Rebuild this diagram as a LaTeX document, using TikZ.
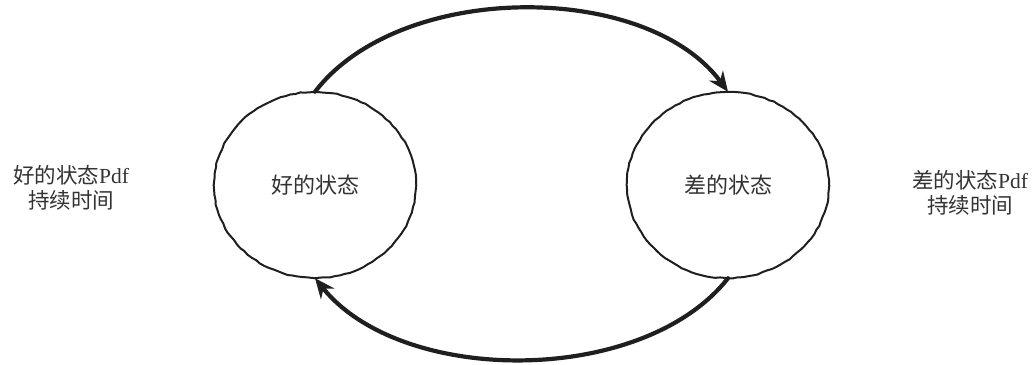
\documentclass[tikz,border=0pt]{standalone}
\usepackage{fontspec}
\setmainfont{Liberation Serif}
\newfontfamily\cjk{Noto Sans CJK SC}
\usetikzlibrary{shapes.geometric,arrows.meta,decorations.pathmorphing}
\begin{document}
\begin{tikzpicture}[x=1pt,y=-1pt,
  statebox/.style={ellipse,minimum width=202pt,minimum height=186pt,inner sep=0pt,
    text=black!80,font=\fontsize{22}{26}\selectfont\cjk},
  wobbly/.style={draw=black!88,line width=2pt,
    decoration={random steps,segment length=5pt,amplitude=0.5pt},decorate},
  flow/.style={draw=black!88,line width=4.2pt,line cap=round,
    -{Stealth[length=20pt,width=17pt]}},
  side/.style={align=center,text=black!80,font=\fontsize{21.5}{25}\selectfont}
]
\useasboundingbox (0,0) rectangle (1035,364);
\node[statebox] (good) at (315,185) {好的状态};
\node[statebox] (bad) at (728,185) {差的状态};
\draw[wobbly] (good.center) ellipse [x radius=101pt, y radius=93pt];
\draw[wobbly] (bad.center) ellipse [x radius=101pt, y radius=93pt];
\draw[flow] (good.north) .. controls +(85,-111) and +(-82,-111) .. (bad.north);
\draw[flow] (bad.south) .. controls +(-85,108) and +(87,108) .. (good.south);
\node[side] (goodpdf) at (71,188) {{\cjk 好的状态}Pdf\\{\cjk 持续时间}};
\node[side] (badpdf) at (970,193) {{\cjk 差的状态}Pdf\\{\cjk 持续时间}};
\end{tikzpicture}
\end{document}
